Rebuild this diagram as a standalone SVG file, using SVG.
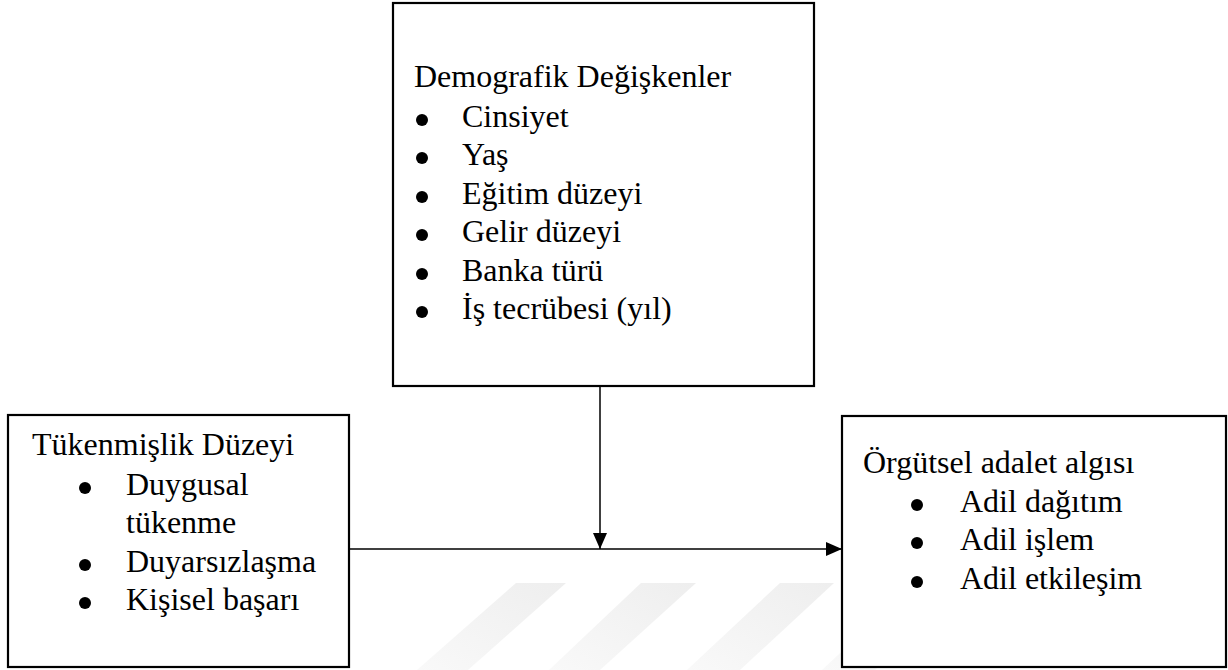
<svg xmlns="http://www.w3.org/2000/svg" width="1228" height="670" viewBox="0 0 1228 670">
  <style>
    .box { fill: #ffffff; stroke: #000000; stroke-width: 2.2; }
    .txt { font-family: "Liberation Serif", "Times New Roman", serif; font-size: 32px; fill: #000000; }
    .dot { fill: #000000; }
    .wire { stroke: #000000; stroke-width: 1.5; fill: none; }
    .mark { fill: url(#fade); }
  </style>
  <defs>
    <linearGradient id="fade" x1="1" y1="0" x2="0" y2="1">
      <stop offset="0" stop-color="#eeeeee"/>
      <stop offset="1" stop-color="#f9f9f9"/>
    </linearGradient>
    <marker id="headV" viewBox="0 0 16 14" refX="16" refY="7" markerWidth="16" markerHeight="14" markerUnits="userSpaceOnUse" orient="auto">
      <path d="M0,0 L16,7 L0,14 Z" fill="#000000"/>
    </marker>
    <marker id="headH" viewBox="0 0 16 14" refX="16" refY="7" markerWidth="16" markerHeight="14" markerUnits="userSpaceOnUse" orient="auto">
      <path d="M0,0 L16,7 L0,14 Z" fill="#000000"/>
    </marker>
  </defs>

  <rect width="1228" height="670" fill="#ffffff"/>

  <!-- faint background stripes -->
  <g id="backdrop">
    <polygon class="mark" points="516,583 566,583 468,670 417,670"/>
    <polygon class="mark" points="641,583 696,583 600,670 549,670"/>
    <polygon class="mark" points="780,583 834,583 740,670 687,670"/>
    <polygon class="mark" points="915,583 970,583 875,670 822,670"/>
  </g>

  <!-- connectors -->
  <g id="connectors">
    <line class="wire" x1="600" y1="386" x2="600" y2="549" marker-end="url(#headV)"/>
    <line class="wire" x1="349" y1="549" x2="842" y2="549" marker-end="url(#headH)"/>
  </g>

  <!-- demographic variables -->
  <g id="demografik">
    <rect class="box" x="393" y="3" width="421" height="383"/>
    <text class="txt" x="414" y="87">Demografik Değişkenler</text>
    <circle class="dot" cx="422" cy="120" r="6"/>
    <text class="txt" x="462" y="127">Cinsiyet</text>
    <circle class="dot" cx="422" cy="158" r="6"/>
    <text class="txt" x="462" y="165">Yaş</text>
    <circle class="dot" cx="422" cy="197" r="6"/>
    <text class="txt" x="462" y="204">Eğitim düzeyi</text>
    <circle class="dot" cx="422" cy="235" r="6"/>
    <text class="txt" x="462" y="242">Gelir düzeyi</text>
    <circle class="dot" cx="422" cy="274" r="6"/>
    <text class="txt" x="462" y="281">Banka türü</text>
    <circle class="dot" cx="422" cy="312" r="6"/>
    <text class="txt" x="462" y="319">İş tecrübesi (yıl)</text>
  </g>

  <!-- burnout level -->
  <g id="tukenmislik">
    <rect class="box" x="8" y="415" width="341" height="252"/>
    <text class="txt" x="32" y="455">Tükenmişlik Düzeyi</text>
    <circle class="dot" cx="85" cy="488" r="6"/>
    <text class="txt" x="126" y="495">Duygusal</text>
    <text class="txt" x="126" y="533">tükenme</text>
    <circle class="dot" cx="85" cy="565" r="6"/>
    <text class="txt" x="126" y="572">Duyarsızlaşma</text>
    <circle class="dot" cx="85" cy="603" r="6"/>
    <text class="txt" x="126" y="610">Kişisel başarı</text>
  </g>

  <!-- organizational justice -->
  <g id="orgutsel">
    <rect class="box" x="842" y="416" width="384" height="251"/>
    <text class="txt" x="863" y="473">Örgütsel adalet algısı</text>
    <circle class="dot" cx="917" cy="505" r="6"/>
    <text class="txt" x="960" y="512">Adil dağıtım</text>
    <circle class="dot" cx="917" cy="543" r="6"/>
    <text class="txt" x="960" y="550">Adil işlem</text>
    <circle class="dot" cx="917" cy="582" r="6"/>
    <text class="txt" x="960" y="589">Adil etkileşim</text>
  </g>
</svg>
